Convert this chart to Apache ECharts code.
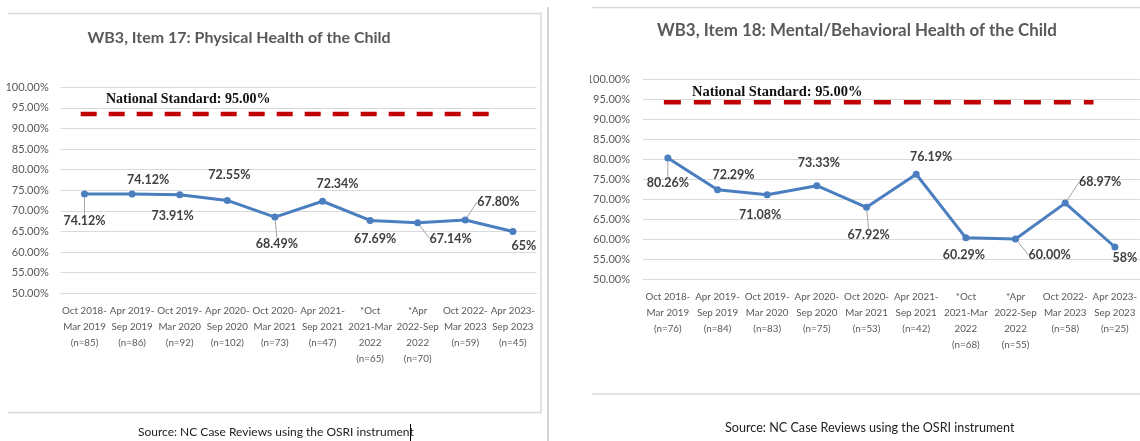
<!DOCTYPE html>
<html>
<head>
<meta charset="utf-8">
<script src="https://cdn.jsdelivr.net/npm/echarts@6/dist/echarts.min.js"></script>
<style>html,body{margin:0;padding:0;background:#fff;}#chart{width:1140px;height:441px;}</style>
</head>
<body>
<div id="chart"></div>
<script>
// ---- data ----
const periods = ['Oct 2018-\nMar 2019','Apr 2019-\nSep 2019','Oct 2019-\nMar 2020','Apr 2020-\nSep 2020','Oct 2020-\nMar 2021','Apr 2021-\nSep 2021','*Oct\n2021-Mar\n2022','*Apr\n2022-Sep\n2022','Oct 2022-\nMar 2023','Apr 2023-\nSep 2023'];
const physicalN = [85, 86, 92, 102, 73, 47, 65, 70, 59, 45];
const mentalN = [76, 84, 83, 75, 53, 42, 68, 55, 58, 25];
const physicalValues = [74.12, 74.12, 73.91, 72.55, 68.49, 72.34, 67.69, 67.14, 67.80, 65];
const physicalLabels = ['74.12%','74.12%','73.91%','72.55%','68.49%','72.34%','67.69%','67.14%','67.80%','65%'];
const mentalValues = [80.26, 72.29, 71.08, 73.33, 67.92, 76.19, 60.29, 60.00, 68.97, 58];
const mentalLabels = ['80.26%','72.29%','71.08%','73.33%','67.92%','76.19%','60.29%','60.00%','68.97%','58%'];
const nationalStandard = 95;
const standardDrawn = [93.5, 94.2];      // height at which the dashed line is drawn in each panel
const standardSpan = [-0.08, 8.57];      // category-index extent of the dashed line
const yMin = 50, yMax = 100, yStep = 5;
const titles = ['WB3, Item 17: Physical Health of the Child', 'WB3, Item 18: Mental/Behavioral Health of the Child'];
const sourceText = 'Source: NC Case Reviews using the OSRI instrument';

// ---- label placement (layout, not data) ----
const physicalOffsets = [[0,27],[16,-14],[-7,21],[2,-25],[2,27],[15,-17],[5,19],[33,16],[33,-18],[11,14]];
const mentalOffsets = [[0,25],[16,-15],[-7,20],[2,-23],[2,28],[15,-17],[-2,17],[34,16],[35,-21],[10,11]];
const leaders = [1,0,0,0,1,0,0,1,1,0];

const SANS = 'Lato';
const GRAY = '#595959';
const BLUE = '#4A7EBF';

function cats(nArr){ return periods.map((p,i)=> p + '\n(n=' + nArr[i] + ')'); }
function items(vals){ return vals.map((v,i)=>({value:v, labelLine:{show: !!leaders[i]}})); }

function xCat(gi, nArr){
  return {type:'category', gridIndex:gi, data:cats(nArr), boundaryGap:true,
    axisLine:{lineStyle:{color:'#D9D9D9', width:1}}, axisTick:{show:false},
    axisLabel:{interval:0, margin:10, fontFamily:SANS, fontSize:9.8, color:GRAY, lineHeight:16}};
}
function xHidden(gi){
  return {type:'value', gridIndex:gi, min:-0.5, max:9.5, show:false, splitLine:{show:false}};
}
function yAx(gi, margin){
  return {type:'value', gridIndex:gi, min:yMin, max:yMax, interval:yStep,
    axisLine:{show:false}, axisTick:{show:false},
    axisLabel:{margin:margin, fontFamily:SANS, fontSize:11, color:GRAY, formatter:v=>v.toFixed(2)+'%'},
    splitLine:{lineStyle:{color:'#D9D9D9', width:1}}};
}
function dataSeries(xi, yi, vals, labels, offsets){
  return {type:'line', xAxisIndex:xi, yAxisIndex:yi, data:items(vals), color:BLUE,
    lineStyle:{width:3, color:BLUE}, symbol:'circle', symbolSize:7, itemStyle:{color:BLUE},
    label:{show:true, position:'inside', formatter:p=>labels[p.dataIndex], fontFamily:SANS, fontSize:12.5, fontWeight:'bold', color:'#404040'},
    labelLayout:p=>({dx:offsets[p.dataIndex][0], dy:offsets[p.dataIndex][1]}),
    labelLine:{show:false, lineStyle:{color:'#A6A6A6', width:1}},
    z:5, animation:false};
}
function stdSeries(xi, yi, k, dash){
  return {type:'line', xAxisIndex:xi, yAxisIndex:yi, symbol:'none', silent:true, animation:false,
    data:[[standardSpan[0], standardDrawn[k]],[standardSpan[1], standardDrawn[k]]],
    lineStyle:{color:'#C00000', width:4.5, type:dash, cap:'butt'}, z:3};
}
function txt(x, y, text, font, fill, align){
  return {type:'text', x:x, y:y, z:120, style:{text:text, font:font, fill:fill, align:align||'left', verticalAlign:'middle'}};
}
function line(points, color, w){
  return {type:'polyline', z:110, shape:{points:points}, style:{stroke:color, lineWidth:w, fill:null}};
}

const chart = echarts.init(document.getElementById('chart'), null, {renderer:'canvas'});
chart.setOption({
  animation:false,
  backgroundColor:'#ffffff',
  grid:[
    {left:60.7, top:87.3, width:476, height:206},
    {left:643, top:79, width:500, height:200}
  ],
  xAxis:[xCat(0, physicalN), xCat(1, mentalN), xHidden(0), xHidden(1)],
  yAxis:[yAx(0, 12), yAx(1, 13)],
  series:[
    stdSeries(2, 0, 0, [16, 12]),
    stdSeries(3, 1, 1, [17, 13]),
    dataSeries(0, 0, physicalValues, physicalLabels, physicalOffsets),
    dataSeries(1, 1, mentalValues, mentalLabels, mentalOffsets)
  ],
  graphic:[
    // panel frames
    line([[8,13.5],[541,13.5],[541,412.5],[8,412.5]], '#D9D9D9', 1.5),
    line([[548,7],[548,441]], '#D4D4D4', 2),
    line([[592,7.5],[1140,7.5]], '#D9D9D9', 1.5),
    line([[592,394],[1140,394]], '#D9D9D9', 1.5),
    {type:'rect', z:105, shape:{x:550, y:60, width:40, height:240}, style:{fill:'#ffffff'}},
    // titles
    txt(87.5, 37.7, titles[0], 'bold 16px Lato', GRAY),
    txt(657, 30.5, titles[1], 'bold 16.9px Lato', GRAY),
    // national standard labels
    txt(106, 99.5, 'National Standard: ' + nationalStandard.toFixed(2) + '%', 'bold 14px "Liberation Serif"', '#111111'),
    txt(692, 92, 'National Standard: ' + nationalStandard.toFixed(2) + '%', 'bold 14.5px "Liberation Serif"', '#111111'),
    // sources
    txt(138, 431.7, sourceText, '12px Lato', '#222222'),
    txt(725, 428.3, sourceText, '12.6px Lato', '#222222'),
    line([[410.5,424],[410.5,441]], '#000000', 1)
  ]
});
</script>
</body>
</html>
